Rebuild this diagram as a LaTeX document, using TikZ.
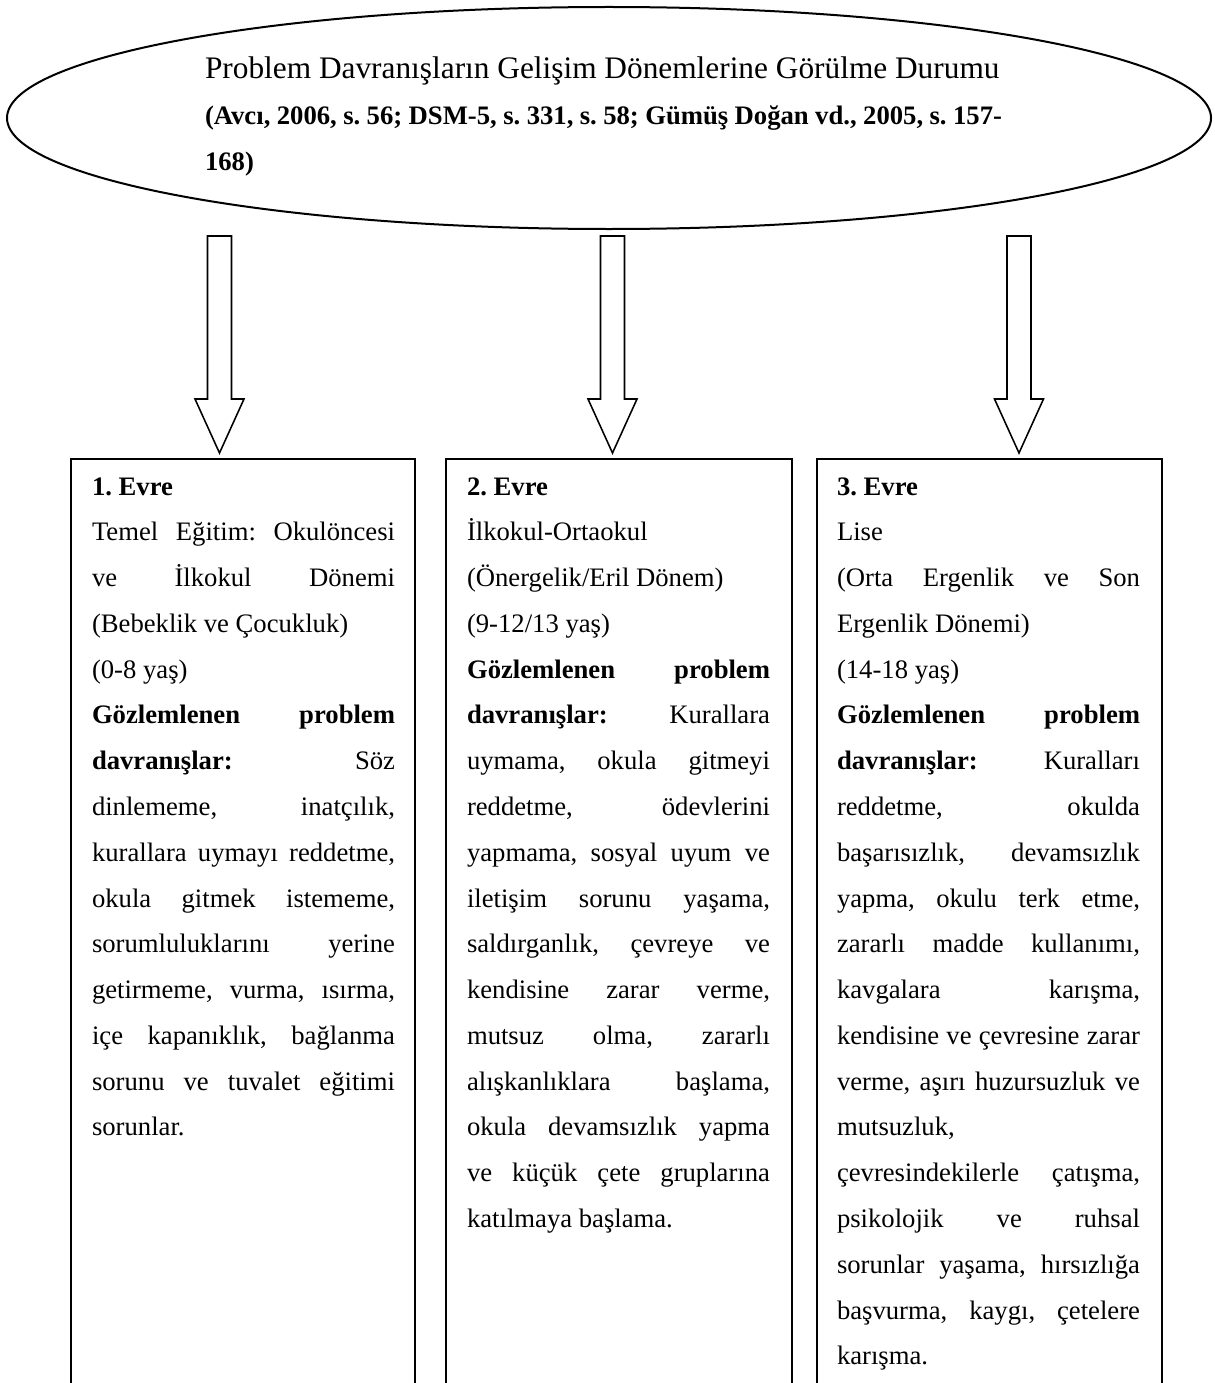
\documentclass[tikz,border=0pt]{standalone}
\usepackage{fontspec}
\setmainfont{Liberation Serif}
\usetikzlibrary{shapes.geometric}
\newcommand{\jline}[1]{\makebox[\linewidth][s]{#1}\\}
\newcommand{\lline}[1]{#1\\}
\tikzset{
  frame/.style={line width=0.9pt, draw=black},
  blockarrow/.style={line width=0.7pt, draw=black, fill=white, line join=miter},
  bodytext/.style={anchor=base west, inner sep=0pt, outer sep=0pt},
}
\frenchspacing
\begin{document}
\frenchspacing
\begin{tikzpicture}[x=0.45pt,y=-0.45pt]
\useasboundingbox (0,0) rectangle (1215,1383);
% heading ellipse
\node[ellipse, frame, minimum width=541.8pt, minimum height=99.9pt, inner sep=0pt] (head) at (609,118) {};
\node[bodytext] (headtext) at (205,79) {\parbox[t]{358.65pt}{\frenchspacing\fontsize{12}{20.6}\selectfont
{\fontsize{14.1}{20.6}\selectfont Problem Davranışların Gelişim Dönemlerine Görülme Durumu}\\
\jline{\bfseries (Avcı, 2006, s. 56; DSM-5, s. 331, s. 58; Gümüş Doğan vd., 2005, s. 157-}%
\textbf{168)}}};
% block arrows
\foreach \cx/\nm in {219.5/a1, 612.5/a2, 1019/a3}{
  \draw[blockarrow] (\cx-12,236) -- (\cx+12,236) -- (\cx+12,399) -- (\cx+24.5,399)
     -- (\cx,453) -- (\cx-24.5,399) -- (\cx-12,399) -- cycle;
}
% boxes (open at the bottom edge)
\draw[frame] (71,1392) -- (71,459) -- (415,459) -- (415,1392);
\draw[frame] (446,1392) -- (446,459) -- (792,459) -- (792,1392);
\draw[frame] (817,1392) -- (817,459) -- (1162,459) -- (1162,1392);
% box texts
\node[bodytext] (t1) at (92,495) {\parbox[t]{136.35pt}{\frenchspacing\fontsize{12}{20.6}\selectfont
\lline{\textbf{1. Evre}}
\jline{Temel Eğitim: Okulöncesi}
\jline{ve İlkokul Dönemi}
\lline{(Bebeklik ve Çocukluk)}
\lline{(0-8 yaş)}
\jline{\textbf{Gözlemlenen} \textbf{problem}}
\jline{\textbf{davranışlar:} Söz}
\jline{dinlememe, inatçılık,}
\jline{kurallara uymayı reddetme,}
\jline{okula gitmek istememe,}
\jline{sorumluluklarını yerine}
\jline{getirmeme, vurma, ısırma,}
\jline{içe kapanıklık, bağlanma}
\jline{sorunu ve tuvalet eğitimi}
sorunlar.}};
\node[bodytext] (t2) at (467,495) {\parbox[t]{136.35pt}{\frenchspacing\fontsize{12}{20.6}\selectfont
\lline{\textbf{2. Evre}}
\lline{İlkokul-Ortaokul}
\lline{(Önergelik/Eril Dönem)}
\lline{(9-12/13 yaş)}
\jline{\textbf{Gözlemlenen} \textbf{problem}}
\jline{\textbf{davranışlar:} Kurallara}
\jline{uymama, okula gitmeyi}
\jline{reddetme, ödevlerini}
\jline{yapmama, sosyal uyum ve}
\jline{iletişim sorunu yaşama,}
\jline{saldırganlık, çevreye ve}
\jline{kendisine zarar verme,}
\jline{mutsuz olma, zararlı}
\jline{alışkanlıklara başlama,}
\jline{okula devamsızlık yapma}
\jline{ve küçük çete gruplarına}
katılmaya başlama.}};
\node[bodytext] (t3) at (837,495) {\parbox[t]{136.35pt}{\frenchspacing\fontsize{12}{20.6}\selectfont
\lline{\textbf{3. Evre}}
\lline{Lise}
\jline{(Orta Ergenlik ve Son}
\lline{Ergenlik Dönemi)}
\lline{(14-18 yaş)}
\jline{\textbf{Gözlemlenen} \textbf{problem}}
\jline{\textbf{davranışlar:} Kuralları}
\jline{reddetme, okulda}
\jline{başarısızlık, devamsızlık}
\jline{yapma, okulu terk etme,}
\jline{zararlı madde kullanımı,}
\jline{kavgalara karışma,}
\jline{kendisine ve çevresine zarar}
\jline{verme, aşırı huzursuzluk ve}
\lline{mutsuzluk,}
\jline{çevresindekilerle çatışma,}
\jline{psikolojik ve ruhsal}
\jline{sorunlar yaşama, hırsızlığa}
\jline{başvurma, kaygı, çetelere}
karışma.}};
\end{tikzpicture}
\end{document}
